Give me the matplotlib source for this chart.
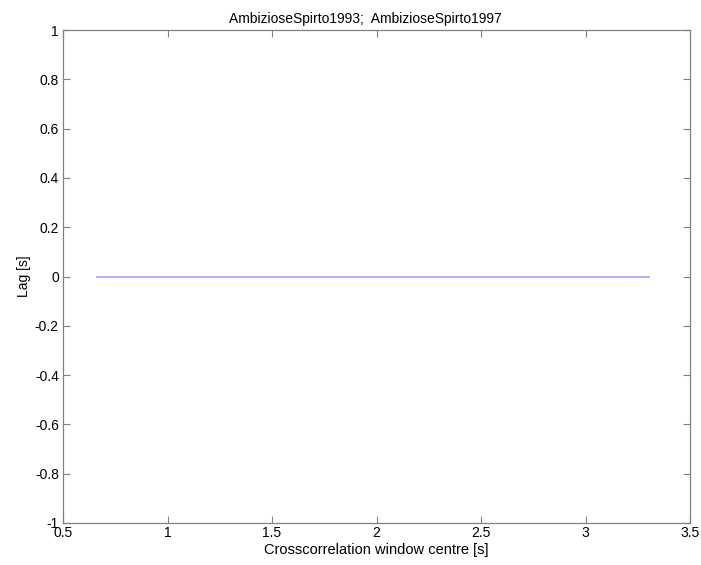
import matplotlib
matplotlib.use("Agg")
import matplotlib.pyplot as plt

title = "AmbizioseSpirto1993;  AmbizioseSpirto1997"
window_centre = [0.663, 1.0, 1.5, 2.0, 2.5, 3.0, 3.304]
lag = [0, 0, 0, 0, 0, 0, 0]
xticks = [0.5, 1, 1.5, 2, 2.5, 3, 3.5]
yticks = [-1, -0.8, -0.6, -0.4, -0.2, 0, 0.2, 0.4, 0.6, 0.8, 1]

plt.rcParams['font.family'] = ['Liberation Sans', 'DejaVu Sans']
fig = plt.figure(figsize=(7.01, 5.65), dpi=100)
ax = fig.add_axes([63/701, 1-523/565, (690-63)/701, (523-30)/565])
ax.plot(window_centre, lag, color='#a8a8ff', lw=1.3)
ax.set_xlim(0.5, 3.5)
ax.set_ylim(-1, 1)
ax.set_xticks(xticks)
ax.set_xticklabels([f"{t:g}" for t in xticks])
ax.set_yticks(yticks)
ax.set_yticklabels([f"{t:g}" for t in yticks])
for s in ax.spines.values():
    s.set_color('#808080')
    s.set_linewidth(0.9)
ax.tick_params(direction='in', length=5, color='#808080', labelsize=10, top=True, right=True, pad=3)
ax.tick_params(axis='x', pad=2)
ax.set_xlabel("Crosscorrelation window centre [s]", fontsize=10.5, labelpad=2)
ax.set_ylabel("Lag [s]", fontsize=10, labelpad=3)
ax.set_title(title, fontsize=10, pad=5)
ax.title.set_x(0.483)
fig.savefig("out.png", dpi=100)
